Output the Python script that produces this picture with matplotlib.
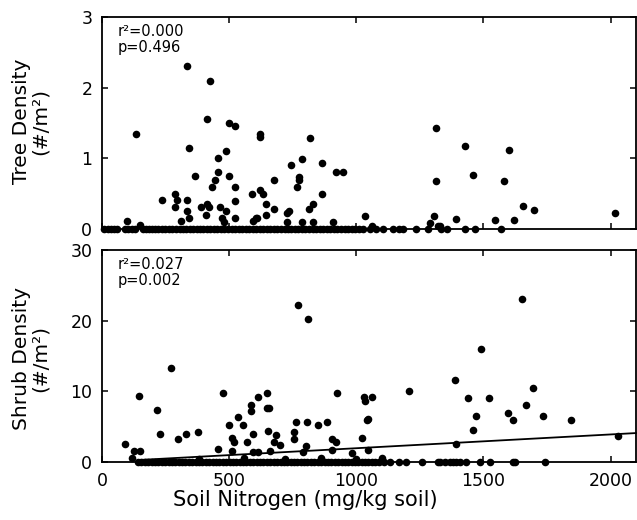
import matplotlib
matplotlib.use("Agg")
import matplotlib.pyplot as plt
import numpy as np

# ---------------- data ----------------
tree_n = [335, 424, 134, 411, 500, 524, 623, 623, 817, 343, 487, 456, 787, 744, 867,
          456, 445, 367, 500, 432, 524, 676, 775, 775, 765, 919, 946, 288, 236, 296,
          333, 524, 589, 623, 632, 867, 288, 333, 390, 411, 422, 464, 487, 409, 644,
          676, 644, 728, 736, 815, 828, 343, 312, 470, 478, 524, 592, 605, 728, 785,
          829, 909, 1035, 97, 1315, 1426, 1600, 1315, 1459, 1580, 1654, 1697, 2018,
          1304, 1291, 1394, 1546, 1621, 1060, 1329, 1320, 148, 608]
tree_d = [2.30, 2.10, 1.35, 1.56, 1.50, 1.46, 1.35, 1.30, 1.29, 1.15, 1.10, 1.00, 0.99, 0.90, 0.94,
          0.80, 0.69, 0.75, 0.75, 0.60, 0.60, 0.69, 0.74, 0.69, 0.60, 0.80, 0.80, 0.50, 0.41, 0.41,
          0.41, 0.40, 0.50, 0.55, 0.50, 0.50, 0.31, 0.26, 0.31, 0.35, 0.31, 0.31, 0.26, 0.20, 0.35,
          0.29, 0.20, 0.22, 0.25, 0.29, 0.35, 0.15, 0.11, 0.15, 0.10, 0.15, 0.12, 0.15, 0.10, 0.10,
          0.10, 0.10, 0.19, 0.12, 1.43, 1.18, 1.12, 0.68, 0.77, 0.68, 0.33, 0.27, 0.22,
          0.18, 0.08, 0.14, 0.13, 0.13, 0.04, 0.04, 0.04, 0.05, 0.15]
tree_zero_n = [8, 22, 35, 48, 60, 90, 104, 118, 130, 160, 172, 185, 198, 210, 222, 236, 248,
               262, 275, 290, 305, 318, 330, 345, 358, 372, 385, 398, 412, 425, 440, 452,
               468, 480, 495, 510, 522, 538, 550, 565, 578, 592, 606, 620, 635, 648, 662,
               675, 690, 705, 718, 730, 745, 760, 772, 786, 800, 815, 828, 842, 856, 870,
               884, 898, 912, 926, 940, 955, 968, 982, 996, 1010, 1027, 1053, 1079, 1104,
               1144, 1168, 1183, 1236, 1282, 1335, 1357, 1428, 1466, 1569]

shrub_n = [771, 811, 272, 147, 477, 613, 647, 925, 1035, 217, 584, 584, 647, 655, 534,
           553, 498, 762, 807, 883, 851, 1042, 228, 300, 330, 376, 511, 521, 571, 592,
           652, 686, 677, 699, 754, 757, 804, 906, 922, 1024, 90, 127, 149, 117, 457,
           512, 592, 613, 660, 791, 904, 985,
           1650, 1489, 1387, 1208, 1695, 1032, 1061, 1438, 1522, 1669, 1598, 1470, 1616,
           1734, 1846, 1045, 1459, 1045, 1391, 2028,
           380, 560, 720, 860, 1000, 1100]
shrub_d = [22.2, 20.2, 13.3, 9.3, 9.8, 9.2, 9.7, 9.7, 8.7, 7.3, 8.1, 7.2, 7.7, 7.7, 6.3,
           5.3, 5.2, 5.7, 5.7, 5.7, 5.2, 5.9, 4.0, 3.3, 4.0, 4.3, 3.4, 2.9, 2.8, 4.0,
           4.4, 3.8, 2.9, 2.4, 4.2, 3.3, 2.3, 3.3, 2.8, 3.4, 2.5, 1.5, 1.5, 0.5, 1.8,
           1.5, 1.4, 1.4, 1.6, 1.4, 1.7, 1.3,
           23.0, 16.0, 11.6, 10.1, 10.5, 9.2, 9.2, 9.1, 9.1, 8.0, 7.0, 6.5, 6.0,
           6.5, 5.9, 6.1, 4.5, 1.7, 2.5, 3.7,
           0.4, 0.5, 0.4, 0.5, 0.4, 0.5]
shrub_zero_n = [141, 155, 168, 182, 195, 208, 222, 235, 248, 262, 275, 288, 302, 315, 328,
                342, 355, 368, 382, 395, 408, 422, 435, 448, 462, 475, 488, 502, 515, 528,
                542, 555, 568, 582, 595, 608, 622, 635, 648, 662, 675, 688, 702, 715, 728,
                742, 755, 768, 782, 795, 808, 822, 835, 848, 862, 875, 888, 902, 915, 928,
                942, 955, 968, 982, 995, 1008, 1022, 1035, 1048, 1062, 1075, 1090, 1110,
                1132, 1168, 1197, 1257, 1320, 1328, 1350, 1367, 1380, 1394, 1407, 1433,
                1485, 1525, 1616, 1623, 1741]

fit_x = [150, 2100]
fit_intercept = 0.0
fit_slope = 0.00195

x_ticks = [0, 500, 1000, 1500, 2000]
tree_ticks = [0, 1, 2, 3]
shrub_ticks = [0, 10, 20, 30]

# ---------------- figure ----------------
W, H = 637, 520
fig = plt.figure(figsize=(W / 100, H / 100), dpi=100)
plt.rcParams['font.family'] = ['DejaVu Sans']

def px_box(l, t, r, b):
    return [l / W, 1 - b / H, (r - l) / W, (b - t) / H]

ax1 = fig.add_axes(px_box(102, 17, 636, 229))
ax2 = fig.add_axes(px_box(102, 250, 636, 462))

def style(ax):
    for sp in ax.spines.values():
        sp.set_linewidth(1.3)
    ax.tick_params(direction='in', length=4, width=1.1, top=True, right=True,
                   labelsize=12.5, pad=7)
    ax.set_xlim(0, 2100)
    ax.set_xticks(x_ticks)

style(ax1)
style(ax2)

ms = 30
ax1.scatter(tree_n, tree_d, s=ms, c='black', linewidths=0, clip_on=False, zorder=3)
ax1.scatter(tree_zero_n, [0] * len(tree_zero_n), s=ms, c='black', linewidths=0,
            clip_on=False, zorder=3)
ax1.set_ylim(0, 3)
ax1.set_yticks(tree_ticks)
ax1.tick_params(labelbottom=False)

ax2.scatter(shrub_n, shrub_d, s=ms, c='black', linewidths=0, clip_on=False, zorder=3)
ax2.scatter(shrub_zero_n, [0] * len(shrub_zero_n), s=ms, c='black', linewidths=0,
            clip_on=False, zorder=3)
fx = np.array(fit_x, dtype=float)
ax2.plot(fx, fit_intercept + fit_slope * fx, color='black', lw=1.3, clip_on=False)
ax2.set_ylim(0, 30)
ax2.set_yticks(shrub_ticks)
ax2.set_xticklabels([str(v) for v in x_ticks])

ax1.text(0.03, 0.965, "r²=0.000\np=0.496", transform=ax1.transAxes, ha='left', va='top',
         fontsize=10.5, linespacing=1.05)
ax2.text(0.03, 0.965, "r²=0.027\np=0.002", transform=ax2.transAxes, ha='left', va='top',
         fontsize=10.5, linespacing=1.05)

fig.text(31 / W, 1 - 121 / H, "Tree Density\n(#/m²)", rotation=90, ha='center',
         va='center', fontsize=14.5, linespacing=1.0, multialignment='center')
fig.text(31 / W, 1 - 358 / H, "Shrub Density\n(#/m²)", rotation=90, ha='center',
         va='center', fontsize=14.5, linespacing=1.0, multialignment='center')
fig.text(305 / W, 1 - 500 / H, "Soil Nitrogen (mg/kg soil)", ha='center', va='center',
         fontsize=15)

fig.savefig("out.png", dpi=100)
